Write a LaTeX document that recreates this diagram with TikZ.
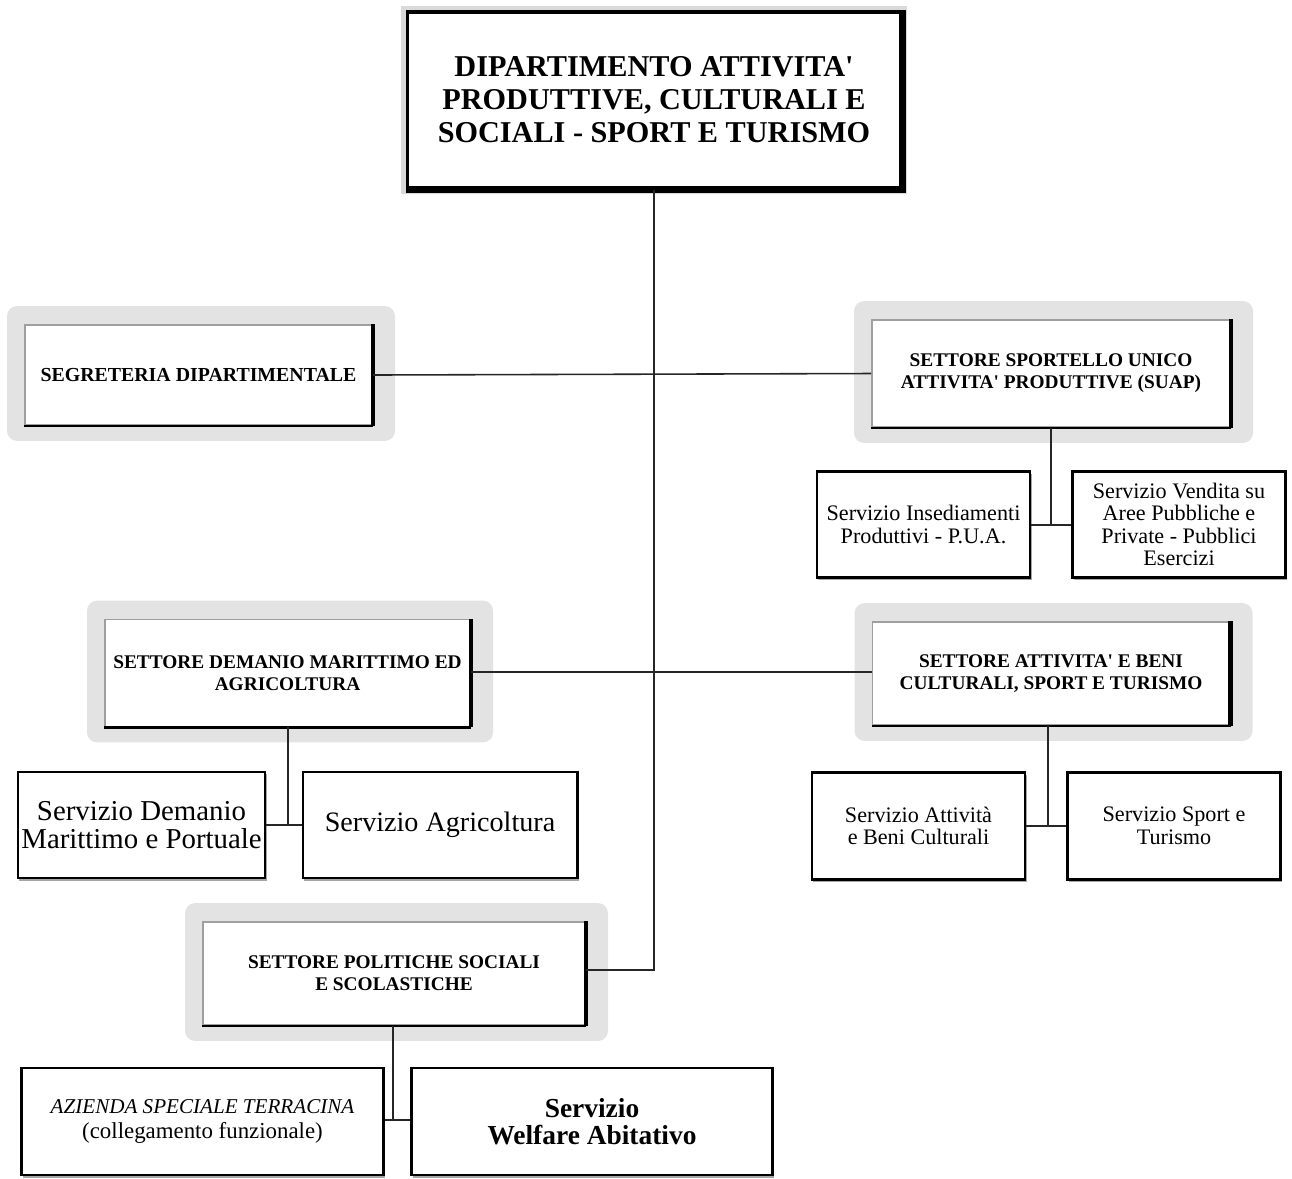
\documentclass[tikz,border=0pt]{standalone}
\usepackage{fontspec}
\setmainfont{Liberation Serif}
\usetikzlibrary{shadows,backgrounds}
\newcommand\apo{\textquotesingle}
\begin{document}
\begin{tikzpicture}[x=0.01cm,y=-0.01cm,
  topbox/.style={draw=black, line width=1pt, fill=white, align=center, inner sep=0pt,
     minimum width=4.93cm, minimum height=1.76cm,
     font=\fontsize{8.6}{9.4}\selectfont\bfseries,
     preaction={draw=gray!30, line width=0.12cm}},
  settore/.style={draw=gray!75, line width=0.5pt, fill=white, align=center, inner sep=0pt,
     font=\fontsize{5.5}{6.2}\selectfont\bfseries},
  halo/.style={fill=gray!22, rounded corners=0.1cm},
  servizio/.style={draw=black, line width=0.8pt, fill=white, align=center, inner sep=0pt,
     minimum height=1.06cm,
     drop shadow={shadow xshift=0.015cm, shadow yshift=-0.025cm, fill=gray!70, opacity=1}},
  small/.style={servizio, minimum width=2.13cm, font=\fontsize{6.3}{6.4}\selectfont},
  conn/.style={draw=black!85, line width=0.45pt}]
\useasboundingbox (0,0) rectangle (1292,1178);

% nodes
\node[topbox] (dip) at (654,100) {DIPARTIMENTO ATTIVITA\apo\\PRODUTTIVE, CULTURALI E\\SOCIALI - SPORT E TURISMO};

\node[settore, minimum width=3.47cm, minimum height=1.00cm, font=\fontsize{5.65}{6.2}\selectfont\bfseries] (segr) at (198.5,375) {SEGRETERIA DIPARTIMENTALE};
\node[settore, minimum width=3.58cm, minimum height=1.07cm] (suap) at (1051,373.5) {SETTORE SPORTELLO UNICO\\ATTIVITA\apo{} PRODUTTIVE (SUAP)};

\node[small] (pua) at (923.5,524.5) {Servizio Insediamenti\\Produttivi - P.U.A.};
\node[small] (vend) at (1179,524.5) {Servizio Vendita su\\Aree Pubbliche e\\Private - Pubblici\\Esercizi};

\node[settore, minimum width=3.65cm, minimum height=1.07cm] (dem) at (287.5,673) {SETTORE DEMANIO MARITTIMO ED\\AGRICOLTURA};
\node[settore, minimum width=3.57cm, minimum height=1.03cm] (beni) at (1051,673.5) {SETTORE ATTIVITA\apo{} E BENI\\CULTURALI, SPORT E TURISMO};

\node[servizio, minimum width=2.47cm, font=\fontsize{8.2}{7.8}\selectfont] (sdem) at (141.5,825) {Servizio Demanio\\Marittimo e Portuale};
\node[servizio, minimum width=2.74cm, font=\fontsize{8}{7.8}\selectfont] (agri) at (440,825) {Servizio Agricoltura};

\node[small, minimum height=1.07cm] (att) at (918.5,826) {Servizio Attività\\e Beni Culturali};
\node[small, minimum height=1.07cm] (sport) at (1174,826) {Servizio Sport e\\Turismo};

\node[settore, minimum width=3.82cm, minimum height=1.03cm] (pol) at (394,973.5) {SETTORE POLITICHE SOCIALI\\E SCOLASTICHE};

\node[servizio, minimum width=3.61cm, minimum height=1.07cm, font=\fontsize{6.5}{7.2}\selectfont] (az) at (202.5,1121.5) {{\fontsize{6}{7.2}\selectfont\itshape AZIENDA SPECIALE TERRACINA}\\(collegamento funzionale)};
\node[servizio, minimum width=3.60cm, minimum height=1.07cm, font=\fontsize{7.8}{7.7}\selectfont\bfseries] (wel) at (592,1121.5) {Servizio\\Welfare Abitativo};

% halos behind the settore boxes
\begin{scope}[on background layer]
\foreach \n in {segr,suap,dem,beni,pol}{
  \fill[halo] ([xshift=-0.17cm,yshift=0.18cm]\n.north west) rectangle ([xshift=0.22cm,yshift=-0.15cm]\n.south east);
}
\end{scope}

% dark right / bottom edges
\foreach \n in {segr,suap,dem,beni,pol}{
  \draw[line width=1.3pt] (\n.north east) -- (\n.south east);
  \draw[line width=0.7pt] (\n.south west) -- (\n.south east);
}
\draw[line width=1.8pt] (dip.north east) -- (dip.south east) -- (dip.south west);

% connectors
\coordinate (trunk) at (654,970);
\draw[conn] (dip.south) -- (trunk) -- (pol.east |- trunk);
\draw[conn] (segr.east) -- (suap.west);
\draw[conn] (dem.east |- 0,672) -- (beni.west |- 0,672);

\coordinate (j1) at (1051,525);
\draw[conn] (suap.south) -- (j1);
\draw[conn] (pua.east |- j1) -- (vend.west |- j1);

\coordinate (j2) at (288,825);
\draw[conn] (dem.south -| j2) -- (j2);
\draw[conn] (sdem.east |- j2) -- (agri.west |- j2);

\coordinate (j3) at (1048,826);
\draw[conn] (beni.south -| j3) -- (j3);
\draw[conn] (att.east |- j3) -- (sport.west |- j3);

\coordinate (j4) at (393,1120);
\draw[conn] (pol.south -| j4) -- (j4);
\draw[conn] (az.east |- j4) -- (wel.west |- j4);
\end{tikzpicture}
\end{document}
